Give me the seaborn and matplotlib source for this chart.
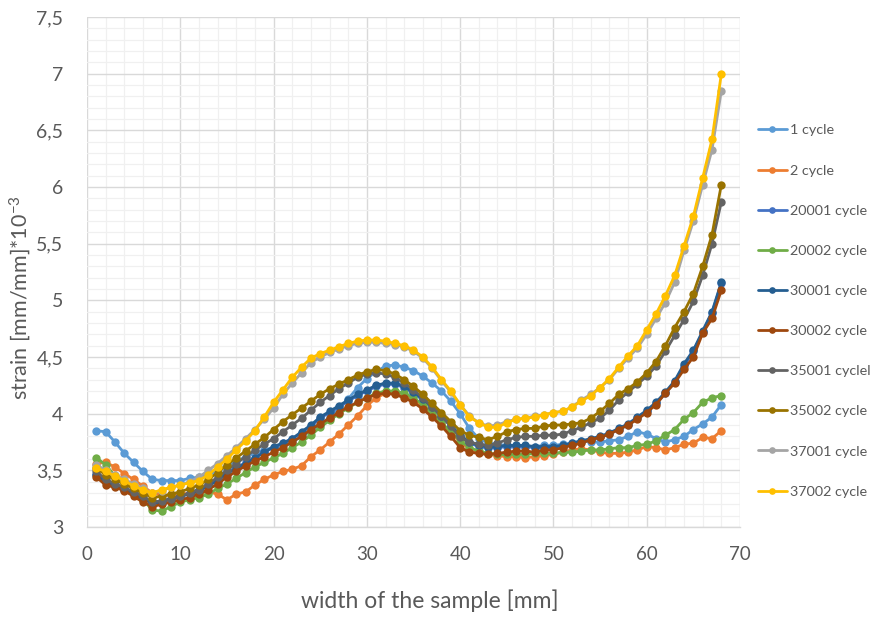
import matplotlib
matplotlib.use("Agg")
import matplotlib.pyplot as plt
from matplotlib.ticker import MultipleLocator, FuncFormatter
import seaborn as sns
import pandas as pd

# Position across the specimen width [mm]
width_mm = list(range(1, 69))

cycle_1 = [3.85, 3.84, 3.75, 3.65, 3.57, 3.49, 3.42, 3.41, 3.41, 3.41,
           3.43, 3.44, 3.46, 3.50, 3.54, 3.58, 3.62, 3.65, 3.68, 3.70,
           3.72, 3.75, 3.80, 3.85, 3.90, 3.97, 4.04, 4.13, 4.23, 4.31,
           4.37, 4.42, 4.43, 4.41, 4.38, 4.33, 4.27, 4.20, 4.11, 4.00,
           3.87, 3.78, 3.74, 3.73, 3.72, 3.72, 3.71, 3.71, 3.72, 3.72,
           3.73, 3.74, 3.76, 3.75, 3.75, 3.76, 3.77, 3.80, 3.84, 3.82,
           3.78, 3.75, 3.77, 3.80, 3.86, 3.91, 3.97, 4.08]

cycle_2 = [3.56, 3.57, 3.53, 3.47, 3.42, 3.36, 3.30, 3.28, 3.28, 3.29,
           3.30, 3.31, 3.31, 3.29, 3.24, 3.29, 3.31, 3.37, 3.42, 3.46,
           3.49, 3.51, 3.54, 3.62, 3.68, 3.75, 3.82, 3.90, 3.98, 4.07,
           4.14, 4.18, 4.19, 4.16, 4.12, 4.06, 3.99, 3.91, 3.83, 3.75,
           3.69, 3.66, 3.64, 3.63, 3.62, 3.62, 3.61, 3.62, 3.63, 3.64,
           3.66, 3.68, 3.69, 3.68, 3.66, 3.65, 3.65, 3.66, 3.68, 3.71,
           3.70, 3.68, 3.70, 3.73, 3.74, 3.79, 3.78, 3.85]

cycle_20001 = [3.47, 3.41, 3.37, 3.33, 3.29, 3.25, 3.22, 3.23, 3.25, 3.27,
               3.30, 3.33, 3.37, 3.42, 3.47, 3.52, 3.57, 3.61, 3.66, 3.70,
               3.74, 3.78, 3.83, 3.89, 3.96, 4.01, 4.06, 4.11, 4.16, 4.20,
               4.24, 4.26, 4.26, 4.23, 4.18, 4.12, 4.05, 3.97, 3.89, 3.80,
               3.74, 3.71, 3.70, 3.70, 3.71, 3.71, 3.71, 3.70, 3.70, 3.70,
               3.71, 3.73, 3.75, 3.77, 3.79, 3.82, 3.86, 3.90, 3.96, 4.02,
               4.09, 4.18, 4.28, 4.42, 4.55, 4.72, 4.89, 5.15]

cycle_20002 = [3.61, 3.55, 3.45, 3.40, 3.33, 3.24, 3.15, 3.14, 3.18, 3.22,
               3.24, 3.26, 3.29, 3.34, 3.38, 3.43, 3.48, 3.53, 3.57, 3.61,
               3.65, 3.70, 3.75, 3.81, 3.88, 3.94, 4.00, 4.05, 4.10, 4.14,
               4.18, 4.20, 4.20, 4.18, 4.14, 4.08, 4.00, 3.92, 3.84, 3.76,
               3.70, 3.67, 3.65, 3.64, 3.64, 3.64, 3.64, 3.65, 3.65, 3.65,
               3.66, 3.66, 3.67, 3.68, 3.68, 3.69, 3.70, 3.70, 3.72, 3.73,
               3.76, 3.81, 3.86, 3.95, 4.01, 4.10, 4.14, 4.16]

cycle_30001 = [3.46, 3.40, 3.36, 3.33, 3.29, 3.25, 3.21, 3.22, 3.25, 3.27,
               3.29, 3.32, 3.36, 3.41, 3.47, 3.52, 3.56, 3.61, 3.66, 3.71,
               3.74, 3.78, 3.84, 3.90, 3.97, 4.02, 4.07, 4.12, 4.17, 4.21,
               4.25, 4.27, 4.27, 4.24, 4.19, 4.13, 4.06, 3.98, 3.90, 3.81,
               3.75, 3.72, 3.71, 3.71, 3.72, 3.72, 3.72, 3.71, 3.71, 3.71,
               3.72, 3.74, 3.76, 3.78, 3.80, 3.83, 3.87, 3.91, 3.97, 4.03,
               4.10, 4.19, 4.29, 4.44, 4.56, 4.73, 4.90, 5.16]

cycle_30002 = [3.44, 3.37, 3.35, 3.32, 3.27, 3.22, 3.18, 3.20, 3.22, 3.24,
               3.26, 3.29, 3.33, 3.38, 3.44, 3.49, 3.54, 3.58, 3.62, 3.66,
               3.70, 3.75, 3.80, 3.86, 3.91, 3.96, 4.01, 4.06, 4.10, 4.14,
               4.17, 4.18, 4.17, 4.14, 4.10, 4.04, 3.97, 3.89, 3.80, 3.70,
               3.66, 3.65, 3.64, 3.65, 3.66, 3.67, 3.67, 3.66, 3.68, 3.68,
               3.70, 3.72, 3.74, 3.77, 3.79, 3.82, 3.86, 3.90, 3.95, 4.01,
               4.08, 4.18, 4.27, 4.39, 4.50, 4.71, 4.84, 5.09]

cycle_35001 = [3.49, 3.42, 3.38, 3.35, 3.31, 3.27, 3.22, 3.23, 3.25, 3.27,
               3.30, 3.33, 3.38, 3.44, 3.50, 3.56, 3.62, 3.68, 3.73, 3.78,
               3.84, 3.90, 3.96, 4.03, 4.10, 4.16, 4.22, 4.27, 4.32, 4.35,
               4.36, 4.35, 4.32, 4.27, 4.21, 4.14, 4.06, 3.98, 3.89, 3.79,
               3.75, 3.73, 3.72, 3.74, 3.77, 3.79, 3.80, 3.80, 3.81, 3.81,
               3.82, 3.85, 3.88, 3.92, 3.96, 4.03, 4.12, 4.19, 4.26, 4.33,
               4.42, 4.55, 4.69, 4.83, 4.99, 5.22, 5.50, 5.87]

cycle_35002 = [3.52, 3.46, 3.42, 3.38, 3.34, 3.30, 3.26, 3.27, 3.29, 3.31,
               3.34, 3.37, 3.42, 3.48, 3.55, 3.61, 3.67, 3.73, 3.79, 3.86,
               3.93, 3.99, 4.05, 4.11, 4.17, 4.22, 4.26, 4.30, 4.34, 4.37,
               4.39, 4.38, 4.35, 4.30, 4.24, 4.17, 4.09, 4.01, 3.93, 3.85,
               3.81, 3.79, 3.77, 3.80, 3.84, 3.86, 3.87, 3.87, 3.89, 3.90,
               3.90, 3.91, 3.92, 3.96, 4.02, 4.09, 4.17, 4.22, 4.28, 4.36,
               4.46, 4.60, 4.76, 4.90, 5.06, 5.30, 5.58, 6.02]

cycle_37001 = [3.55, 3.50, 3.46, 3.42, 3.38, 3.34, 3.30, 3.32, 3.35, 3.37,
               3.40, 3.44, 3.50, 3.56, 3.63, 3.70, 3.78, 3.86, 3.95, 4.05,
               4.17, 4.27, 4.36, 4.45, 4.50, 4.54, 4.57, 4.60, 4.62, 4.63,
               4.63, 4.62, 4.61, 4.59, 4.55, 4.49, 4.40, 4.29, 4.19, 4.08,
               3.98, 3.92, 3.89, 3.90, 3.93, 3.95, 3.96, 3.98, 3.99, 4.01,
               4.02, 4.06, 4.12, 4.17, 4.23, 4.30, 4.40, 4.49, 4.58, 4.70,
               4.84, 4.98, 5.16, 5.44, 5.70, 6.02, 6.33, 6.85]

cycle_37002 = [3.52, 3.49, 3.45, 3.41, 3.36, 3.33, 3.30, 3.33, 3.35, 3.37,
               3.39, 3.41, 3.46, 3.53, 3.60, 3.68, 3.76, 3.85, 3.97, 4.10,
               4.21, 4.32, 4.41, 4.49, 4.53, 4.56, 4.59, 4.62, 4.64, 4.65,
               4.65, 4.64, 4.62, 4.60, 4.56, 4.50, 4.41, 4.30, 4.20, 4.08,
               3.97, 3.92, 3.88, 3.88, 3.92, 3.95, 3.96, 3.97, 3.99, 4.01,
               4.02, 4.06, 4.11, 4.16, 4.23, 4.31, 4.41, 4.51, 4.60, 4.74,
               4.88, 5.04, 5.22, 5.48, 5.74, 6.08, 6.42, 7.00]

series_names = ["1 cycle", "2 cycle", "20001 cycle", "20002 cycle", "30001 cycle",
                "30002 cycle", "35001 cyclel", "35002 cycle", "37001 cycle", "37002 cycle"]
series_values = [cycle_1, cycle_2, cycle_20001, cycle_20002, cycle_30001,
                 cycle_30002, cycle_35001, cycle_35002, cycle_37001, cycle_37002]
series_colors = ["#5B9BD5", "#ED7D31", "#4472C4", "#70AD47", "#255E91",
                 "#9E480E", "#636363", "#997300", "#A5A5A5", "#FFC000"]

frames = [pd.DataFrame({"width": width_mm, "strain": vals, "series": name})
          for name, vals in zip(series_names, series_values)]
data = pd.concat(frames, ignore_index=True)

sns.set_theme(style="white")
plt.rcParams["font.family"] = ["Lato", "DejaVu Sans"]
plt.rcParams["mathtext.default"] = "regular"

text_color = "#595959"

fig = plt.figure(figsize=(8.74, 6.17), dpi=100)
ax = fig.add_axes([87 / 874, 1 - 527 / 617, 653 / 874, 510 / 617])

sns.lineplot(data=data, x="width", y="strain", hue="series",
             hue_order=series_names, palette=series_colors,
             marker="o", markersize=6, markeredgewidth=0,
             linewidth=2.0, ax=ax, legend=True)

ax.set_xlim(0, 70)
ax.set_ylim(3, 7.5)
ax.xaxis.set_major_locator(MultipleLocator(10))
ax.xaxis.set_minor_locator(MultipleLocator(2))
ax.yaxis.set_major_locator(MultipleLocator(0.5))
ax.yaxis.set_minor_locator(MultipleLocator(0.1))
ax.yaxis.set_major_formatter(FuncFormatter(lambda v, p: f"{v:g}".replace(".", ",")))

ax.grid(which="major", color="#D9D9D9", linewidth=1.0)
ax.grid(which="minor", color="#F0F0F0", linewidth=0.9)
ax.set_axisbelow(True)

for side in ["top", "right", "left"]:
    ax.spines[side].set_visible(False)
ax.spines["bottom"].set_color("#D9D9D9")
ax.spines["bottom"].set_linewidth(1.0)

ax.tick_params(axis="x", which="major", length=5, color="#D9D9D9",
               labelsize=13.5, labelcolor=text_color, pad=9)
ax.tick_params(axis="x", which="minor", length=0)
ax.tick_params(axis="y", which="both", length=0, labelsize=14,
               labelcolor=text_color, pad=17)

ax.set_xlabel("width of the sample [mm]", fontsize=16.5, color=text_color)
ax.set_ylabel("strain [mm/mm]*10$^{-3}$", fontsize=15.5, color=text_color)
ax.xaxis.set_label_coords(0.525, -0.122)
ax.yaxis.set_label_coords(-0.082, 0.45)

handles, labels = ax.get_legend_handles_labels()
ax.legend(handles, labels, loc="center left",
          bbox_to_anchor=(745 / 874, 1 - 311 / 617), bbox_transform=fig.transFigure,
          frameon=False, fontsize=10.4, labelcolor=text_color,
          handlelength=2.0, handletextpad=0.2, labelspacing=1.94,
          markerscale=0.8)

fig.savefig("out.png", dpi=100)
